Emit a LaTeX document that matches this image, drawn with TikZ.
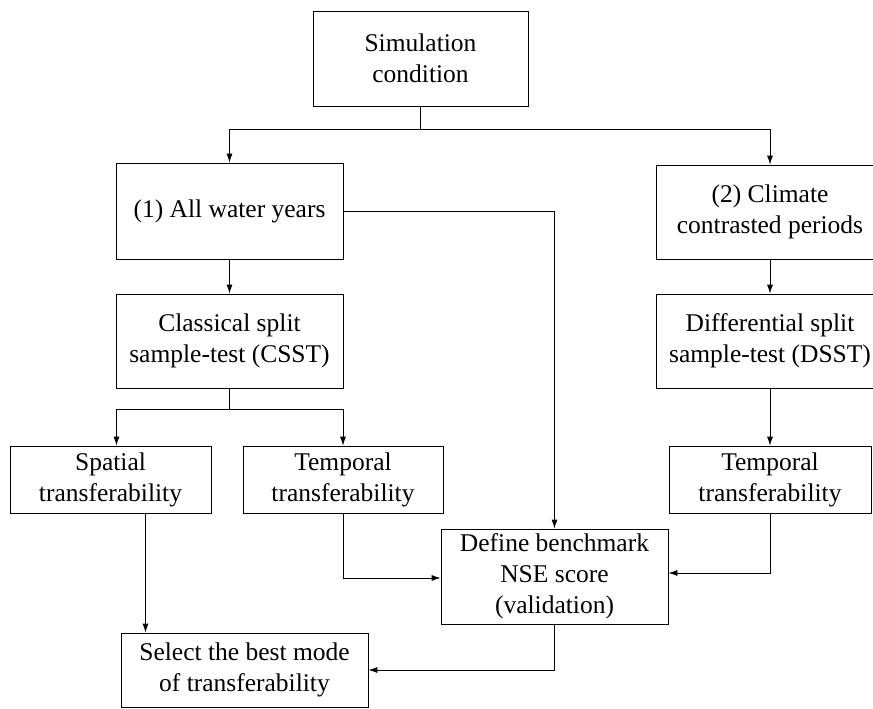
\documentclass[tikz,border=0pt]{standalone}
\usepackage{fontspec}
\setmainfont{Liberation Serif}
\usetikzlibrary{arrows.meta}

\tikzset{
	box/.style={draw, line width=0.8pt, align=center, inner sep=0pt,
		font=\fontsize{25.5}{31}\selectfont},
	link/.style={line width=0.8pt, -{Latex[length=9pt,width=6pt]}}
}

\begin{document}
\begin{tikzpicture}[x=1pt, y=-1pt]
		\clip (0,0) rectangle (873,709);
		\useasboundingbox (0,0) rectangle (873,709);

		\node [box, minimum width=215, minimum height=95] (sim) at (420.5, 58.5) {Simulation\\condition};
		\node [box, minimum width=227, minimum height=96] (all) at (229.5, 211) {(1) All water years};
		\node [box, minimum width=228, minimum height=94] (clim) at (770, 212) {(2) Climate\\contrasted periods};
		\node [box, minimum width=227, minimum height=94] (csst) at (229.5, 341) {Classical split\\sample-test (CSST)};
		\node [box, minimum width=228, minimum height=94] (dsst) at (770, 341) {Differential split\\sample-test (DSST)};
		\node [box, minimum width=201, minimum height=67] (spat) at (110.5, 479.5) {Spatial\\transferability};
		\node [box, minimum width=200, minimum height=67] (tempa) at (343, 479.5) {Temporal\\transferability};
		\node [box, minimum width=202, minimum height=67] (tempb) at (770, 479.5) {Temporal\\transferability};
		\node [box, minimum width=227, minimum height=95] (bench) at (554.5, 576.5) {Define benchmark\\NSE score\\(validation)};
		\node [box, minimum width=247, minimum height=74] (best) at (244.5, 670) {Select the best mode\\of transferability};

		\coordinate (top) at (420.5, 129);
		\coordinate (mid) at (229.5, 409);

		\draw [line width=0.8pt] (sim) -- (top);
		\draw [link] (top) -| (all);
		\draw [link] (top) -| (clim);
		\draw [link] (all.east) -| (bench);
		\draw [link] (all) -- (csst);
		\draw [link] (clim) -- (dsst);

		\draw [line width=0.8pt] (csst) -- (mid);
		\draw [link] (mid) -| ([xshift=6pt]spat.north);
		\draw [link] (mid) -| (tempa);
		\draw [link] (dsst) -- (tempb);

		\draw [link] ([xshift=35pt]spat.south) -- ([xshift=35pt]spat.south |- best.north);
		\draw [link] (tempa) |- ([yshift=-1.5pt]bench.west);
		\draw [link] (tempb) |- ([yshift=3.5pt]bench.east);
		\draw [link] (bench) |- (best);
	\end{tikzpicture}
\end{document}
